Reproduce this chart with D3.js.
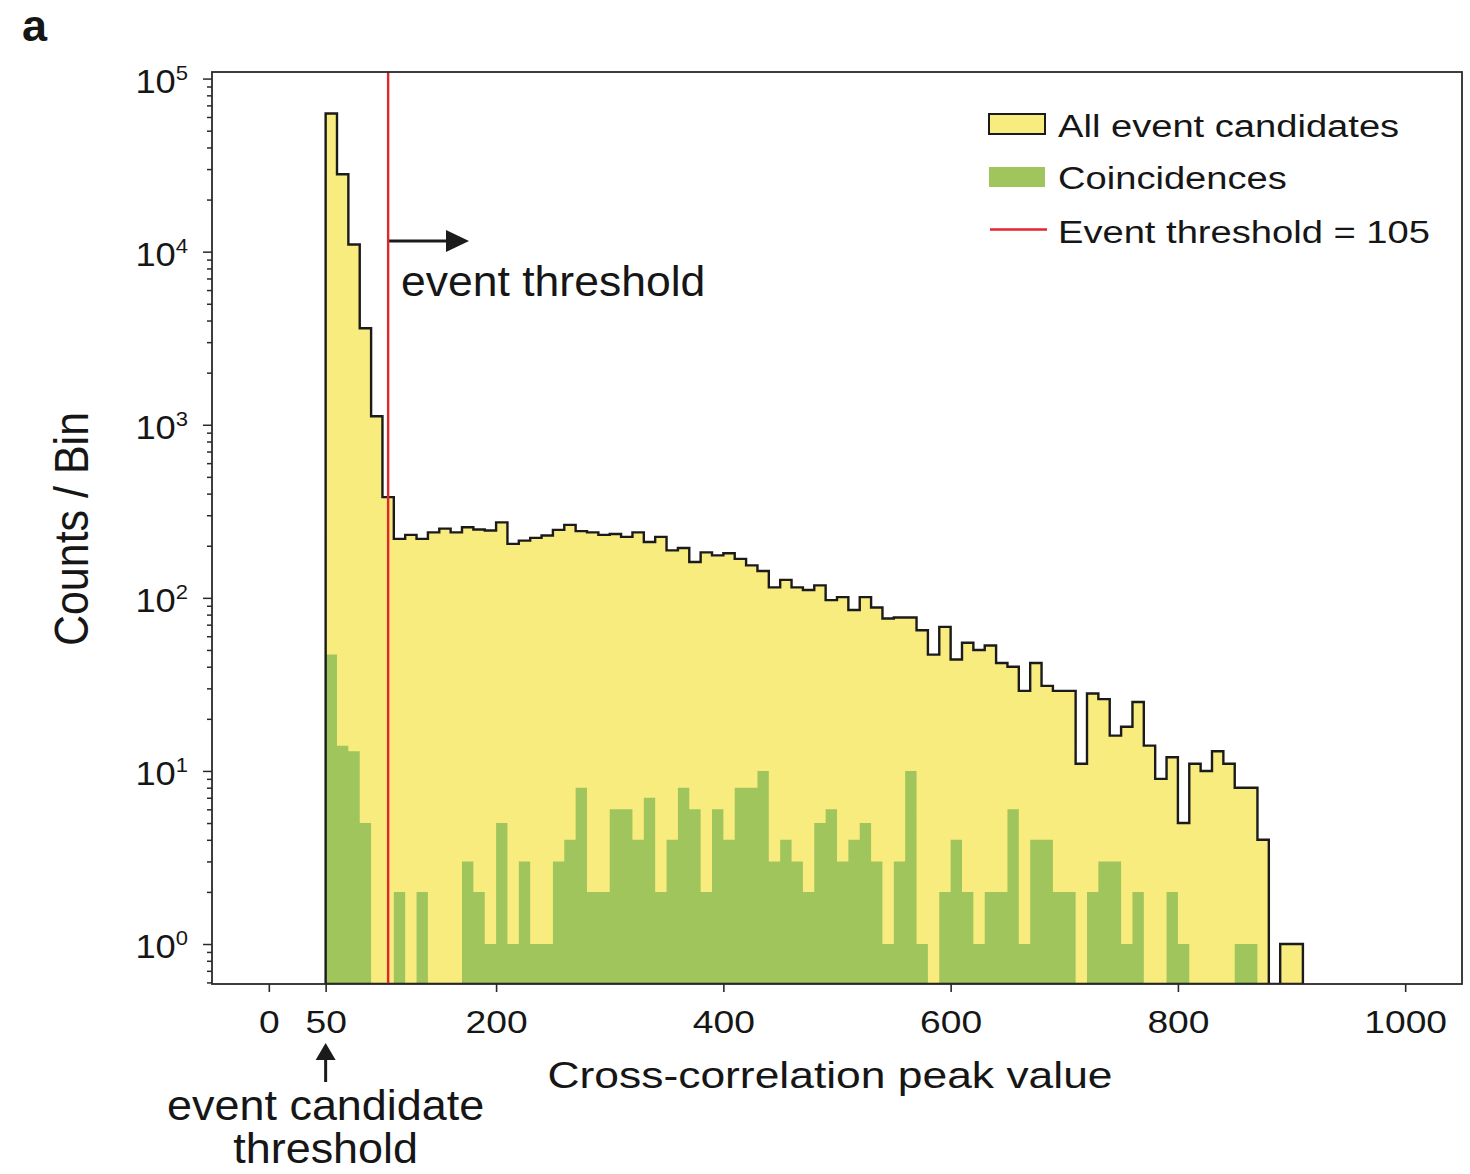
<!DOCTYPE html>
<html>
<head>
<meta charset="utf-8">
<script src="https://cdn.jsdelivr.net/npm/d3@7"></script>
<style>
  body { margin: 0; background: #fff; }
  svg { display: block; }
  text { font-family: "Liberation Sans", Arial, Helvetica, sans-serif; fill: #161616; }
</style>
</head>
<body>
<svg id="chart" width="1470" height="1174"></svg>
<script>
// Histogram binning (cross-correlation peak value)
const binStart = 50;
const binWidth = 10;

// Counts per bin for all event candidates (bins 50-60, 60-70, ...)
const allCounts = [
  62800, 28000, 11000, 3610, 1120, 382, 219, 231, 219, 239,
  251, 239, 256, 248, 245, 273, 205, 214, 222, 229,
  247, 264, 243, 239, 231, 234, 225, 239, 210, 225,
  188, 194, 161, 183, 176, 181, 168, 154, 143, 115,
  127, 115, 111, 118, 97, 101, 85, 101, 88, 76,
  77, 77, 65, 47, 68, 44, 55, 50, 53, 42,
  40, 29, 42, 31, 29, 29, 11, 28, 26, 16,
  18, 25, 14, 9, 12, 5, 11, 10, 13, 11,
  8, 8, 4, 0, 1, 1
];

// Counts per bin for coincidences
const coincidenceCounts = [
  47, 14, 13, 5, 0, 0, 2, 0, 2, 0,
  0, 0, 3, 2, 1, 5, 1, 3, 1, 1,
  3, 4, 8, 2, 2, 6, 6, 4, 7, 2,
  4, 8, 6, 2, 6, 4, 8, 8, 10, 3,
  4, 3, 2, 5, 6, 3, 4, 5, 3, 1,
  3, 10, 1, 0, 2, 4, 2, 1, 2, 2,
  6, 1, 4, 4, 2, 2, 0, 2, 3, 3,
  1, 2, 0, 0, 2, 1, 0, 0, 0, 0,
  1, 1, 0, 0, 0, 0
];

const eventThreshold = 105;
const candidateThreshold = 50;

const xTickValues = [0, 50, 200, 400, 600, 800, 1000];
const yDecades = [0, 1, 2, 3, 4, 5];
const legendLabels = ["All event candidates", "Coincidences", "Event threshold = 105"];

const colors = { all: "#f9ec7f", coinc: "#a0c55c", threshold: "#e3262b", ink: "#1b1b1b" };
const SX = 1.2; // horizontal text stretch

const svg = d3.select("#chart");
const plot = { left: 212, right: 1462, top: 72, bottom: 984 };

const x = d3.scaleLinear().domain([-50, 1050]).range([plot.left, plot.right]);
const y = d3.scaleLog().domain([Math.pow(10, -0.231), Math.pow(10, 5.038)]).range([plot.bottom, plot.top]);

// Step outline of a histogram, closed along the bottom of the plot
function stepPath(counts) {
  const base = plot.bottom;
  const pts = [[x(binStart), base]];
  counts.forEach((c, i) => {
    const yy = c > 0 ? y(c) : base;
    pts.push([x(binStart + i * binWidth), yy], [x(binStart + (i + 1) * binWidth), yy]);
  });
  pts.push([x(binStart + counts.length * binWidth), base]);
  return d3.line()(pts) + "Z";
}

svg.append("defs").append("clipPath").attr("id", "plotclip")
  .append("rect").attr("x", plot.left).attr("y", plot.top)
  .attr("width", plot.right - plot.left).attr("height", plot.bottom - plot.top);

const body = svg.append("g").attr("clip-path", "url(#plotclip)");

// All candidates: fill
body.append("path").attr("d", stepPath(allCounts)).attr("fill", colors.all).attr("stroke", "none");
// Coincidences
body.append("path").attr("d", stepPath(coincidenceCounts)).attr("fill", colors.coinc).attr("stroke", "none");
// All candidates: outline
body.append("path").attr("d", stepPath(allCounts)).attr("fill", "none")
  .attr("stroke", colors.ink).attr("stroke-width", 2.4).attr("stroke-linejoin", "miter");
// Event threshold line
body.append("line")
  .attr("x1", x(eventThreshold)).attr("x2", x(eventThreshold))
  .attr("y1", plot.top).attr("y2", plot.bottom)
  .attr("stroke", colors.threshold).attr("stroke-width", 2.4);

// Frame
svg.append("rect").attr("x", plot.left).attr("y", plot.top)
  .attr("width", plot.right - plot.left).attr("height", plot.bottom - plot.top)
  .attr("fill", "none").attr("stroke", "#2a2a2a").attr("stroke-width", 1.8);

// X axis
const xAxis = svg.append("g").attr("transform", `translate(0,${plot.bottom})`)
  .call(d3.axisBottom(x).tickValues(xTickValues).tickSize(8).tickFormat(d3.format("d")));
xAxis.select(".domain").remove();
xAxis.selectAll(".tick line").attr("stroke", "#2a2a2a").attr("stroke-width", 1.6);
xAxis.selectAll(".tick text")
  .attr("y", 49).attr("dy", 0)
  .attr("transform", `scale(${SX},1)`)
  .style("font-size", "31px").attr("fill", "#161616");

// Y axis: major and minor ticks
const majorTicks = yDecades.map(e => Math.pow(10, e));
const minorTicks = [];
for (let e = -1; e <= 5; e++) {
  for (let m = 2; m <= 9; m++) {
    const v = m * Math.pow(10, e);
    if (v >= y.domain()[0] && v <= y.domain()[1]) minorTicks.push(v);
  }
}
const yMajor = svg.append("g").attr("transform", `translate(${plot.left},0)`)
  .call(d3.axisLeft(y).tickValues(majorTicks).tickSize(9).tickFormat(""));
const yMinor = svg.append("g").attr("transform", `translate(${plot.left},0)`)
  .call(d3.axisLeft(y).tickValues(minorTicks).tickSize(5).tickFormat(""));
[yMajor, yMinor].forEach(g => {
  g.select(".domain").remove();
  g.selectAll(".tick line").attr("stroke", "#2a2a2a").attr("stroke-width", 1.5);
});

// Power-of-ten labels
const yLabels = svg.append("g");
yDecades.forEach(e => {
  const t = yLabels.append("text")
    .attr("transform", `translate(188,${y(Math.pow(10, e)) + 14}) scale(1.1,1)`)
    .attr("text-anchor", "end");
  t.append("tspan").text("10").style("font-size", "33px");
  t.append("tspan").text(String(e)).attr("dy", -13).style("font-size", "20px");
});

// Axis titles
svg.append("text")
  .attr("transform", `translate(830,1088) scale(${SX},1)`)
  .attr("text-anchor", "middle").style("font-size", "37px")
  .text("Cross-correlation peak value");
svg.append("text")
  .attr("transform", `translate(88,529) scale(1.12,1) rotate(-90)`)
  .attr("text-anchor", "middle").style("font-size", "43px")
  .text("Counts / Bin");

// Panel letter
svg.append("text").attr("x", 22).attr("y", 41)
  .style("font-size", "45px").style("font-weight", "bold").text("a");

// Event threshold annotation
const arrowY = 241;
svg.append("line")
  .attr("x1", x(eventThreshold) + 1).attr("x2", 450)
  .attr("y1", arrowY).attr("y2", arrowY)
  .attr("stroke", colors.ink).attr("stroke-width", 3);
svg.append("path")
  .attr("d", `M446,${arrowY - 11}L469,${arrowY}L446,${arrowY + 11}Z`)
  .attr("fill", colors.ink);
svg.append("text")
  .attr("transform", `translate(401,296) scale(1.06,1)`)
  .style("font-size", "42px").text("event threshold");

// Candidate threshold annotation below the axis
const cx = x(candidateThreshold);
svg.append("line").attr("x1", cx).attr("x2", cx).attr("y1", 1082).attr("y2", 1056)
  .attr("stroke", colors.ink).attr("stroke-width", 3);
svg.append("path").attr("d", `M${cx - 10},1060L${cx},1043L${cx + 10},1060Z`).attr("fill", colors.ink);
svg.append("text").attr("transform", `translate(${cx},1120) scale(1.07,1)`)
  .attr("text-anchor", "middle").style("font-size", "42px").text("event candidate");
svg.append("text").attr("transform", `translate(${cx},1163) scale(1.07,1)`)
  .attr("text-anchor", "middle").style("font-size", "42px").text("threshold");

// Legend
const legend = svg.append("g");
const rowY = [124, 177, 229.5];
legend.append("rect").attr("x", 989).attr("y", rowY[0] - 10).attr("width", 56).attr("height", 20)
  .attr("fill", colors.all).attr("stroke", colors.ink).attr("stroke-width", 2);
legend.append("rect").attr("x", 989).attr("y", rowY[1] - 10).attr("width", 56).attr("height", 20)
  .attr("fill", colors.coinc);
legend.append("line").attr("x1", 990).attr("x2", 1047).attr("y1", rowY[2]).attr("y2", rowY[2])
  .attr("stroke", colors.threshold).attr("stroke-width", 2.4);
const legendBaselines = [137, 189, 243];
legendLabels.forEach((lab, i) => {
  legend.append("text")
    .attr("transform", `translate(1058,${legendBaselines[i]}) scale(1.23,1)`)
    .style("font-size", "31px").text(lab);
});
</script>
</body>
</html>
